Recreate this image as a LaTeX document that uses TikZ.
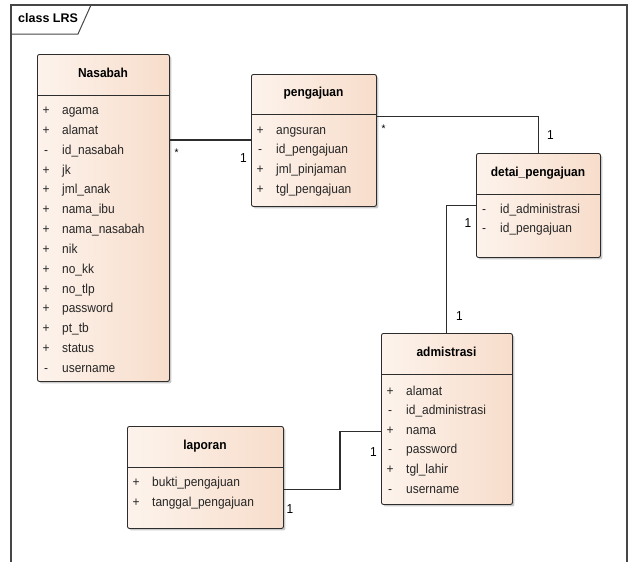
\documentclass[tikz,border=0pt]{standalone}
\usepackage{fontspec}
\setmainfont{Liberation Sans}[FakeStretch=0.92]
\newfontfamily\framefont{Liberation Sans}
\usetikzlibrary{shadows}
\definecolor{boxL}{RGB}{253,243,236}
\definecolor{boxR}{RGB}{247,221,203}
\definecolor{lineC}{RGB}{45,45,45}
\definecolor{frameC}{RGB}{70,70,70}
\tikzset{
  classbox/.style={draw=lineC, line width=0.9pt, rounded corners=2pt,
    left color=boxL, right color=boxR, inner sep=0pt, anchor=north west,
    drop shadow={shadow xshift=2pt, shadow yshift=-2pt, fill=black!35, opacity=0.6}},
  ctitle/.style={font=\fontsize{13}{15}\selectfont\bfseries, anchor=mid, inner sep=0pt},
  attr/.style={font=\fontsize{13}{15}\selectfont, anchor=mid west, inner sep=0pt, text=black!85},
  vis/.style={font=\fontsize{13}{15}\selectfont, anchor=mid, inner sep=0pt, text=black!85},
  conn/.style={draw=lineC, line width=1.1pt},
  mult/.style={font=\fontsize{13}{15}\selectfont, inner sep=0pt, anchor=center},
  star/.style={font=\fontsize{11}{12}\selectfont, inner sep=0pt, anchor=center},
}
\begin{document}
\begin{tikzpicture}[x=1pt,y=-1pt]
\useasboundingbox (0,0) rectangle (632,562);
% frame
\draw[draw=frameC, line width=1.2pt] (11,562) -- (11,5) -- (627,5) -- (627,562);
\draw[draw=frameC, line width=1pt] (11,34) -- (78,34) -- (91,5);
\node[font=\fontsize{12.5}{15}\framefont\bfseries, anchor=mid west, inner sep=0pt] (frametitle) at (18,20) {class LRS};

% Nasabah
\node[classbox, minimum width=132pt, minimum height=327pt] (nasabah) at (37,54) {};
\draw[draw=lineC, line width=0.9pt] (37,95) -- (169,95);
\node[ctitle] (nasabahT) at (103,74.5) {Nasabah};
\foreach \v/\t [count=\i from 0] in {+/agama,+/alamat,-/id\_nasabah,+/jk,+/jml\_anak,+/nama\_ibu,+/nama\_nasabah,+/nik,+/no\_kk,+/no\_tlp,+/password,+/pt\_tb,+/status,-/username}{
  \node[vis] (nv\i) at (46,112+19.83*\i) {\v};
  \node[attr] (na\i) at (62,112+19.83*\i) {\t};
}

% pengajuan
\node[classbox, minimum width=125pt, minimum height=132pt] (pengajuan) at (251,74) {};
\draw[draw=lineC, line width=0.9pt] (251,114) -- (376,114);
\node[ctitle] (pengajuanT) at (313.5,94) {pengajuan};
\foreach \v/\t [count=\i from 0] in {+/angsuran,-/id\_pengajuan,+/jml\_pinjaman,+/tgl\_pengajuan}{
  \node[vis] (pv\i) at (260,131.5+19.8*\i) {\v};
  \node[attr] (pa\i) at (276,131.5+19.8*\i) {\t};
}

% detai_pengajuan
\node[classbox, minimum width=124pt, minimum height=104pt] (detai) at (476,153) {};
\draw[draw=lineC, line width=0.9pt] (476,194) -- (600,194);
\node[ctitle] (detaiT) at (538,173.5) {detai\_pengajuan};
\foreach \v/\t [count=\i from 0] in {-/id\_administrasi,-/id\_pengajuan}{
  \node[vis] (dv\i) at (484,211+19*\i) {\v};
  \node[attr] (da\i) at (500,211+19*\i) {\t};
}

% admistrasi
\node[classbox, minimum width=131pt, minimum height=171pt] (admin) at (381,333) {};
\draw[draw=lineC, line width=0.9pt] (381,374) -- (512,374);
\node[ctitle] (adminT) at (446.5,353.5) {admistrasi};
\foreach \v/\t [count=\i from 0] in {+/alamat,-/id\_administrasi,+/nama,-/password,+/tgl\_lahir,-/username}{
  \node[vis] (av\i) at (390,392.5+19.6*\i) {\v};
  \node[attr] (aa\i) at (406,392.5+19.6*\i) {\t};
}

% laporan
\node[classbox, minimum width=156pt, minimum height=102pt] (laporan) at (127,426) {};
\draw[draw=lineC, line width=0.9pt] (127,467) -- (283,467);
\node[ctitle] (laporanT) at (205,446.5) {laporan};
\foreach \v/\t [count=\i from 0] in {+/bukti\_pengajuan,+/tanggal\_pengajuan}{
  \node[vis] (lv\i) at (136,484+20*\i) {\v};
  \node[attr] (la\i) at (152,484+20*\i) {\t};
}

% connectors
\draw[conn] (nasabah.east |- 0,140) -- (pengajuan.west |- 0,140);
\node[star] (s1) at (176.5,153) {*};
\node[mult] (m1) at (243.5,158) {1};

\coordinate (c2) at (538.5,116.5);
\draw[conn] (pengajuan.east |- c2) -- (c2) -- (c2 |- detai.north);
\node[star] (s2) at (383.5,129) {*};
\node[mult] (m2) at (550.5,135.5) {1};

\coordinate (c3) at (446.5,205.5);
\draw[conn] (detai.west |- c3) -- (c3) -- (c3 |- admin.north);
\node[mult] (m3) at (468,223.5) {1};
\node[mult] (m4) at (459.5,316.5) {1};

\coordinate (c4a) at (340,431.5);
\coordinate (c4b) at (340,489.5);
\draw[conn] (admin.west |- c4a) -- (c4a) -- (c4b) -- (laporan.east |- c4b);
\node[mult] (m5) at (373.5,452) {1};
\node[mult] (m6) at (290,509.5) {1};
\end{tikzpicture}
\end{document}
